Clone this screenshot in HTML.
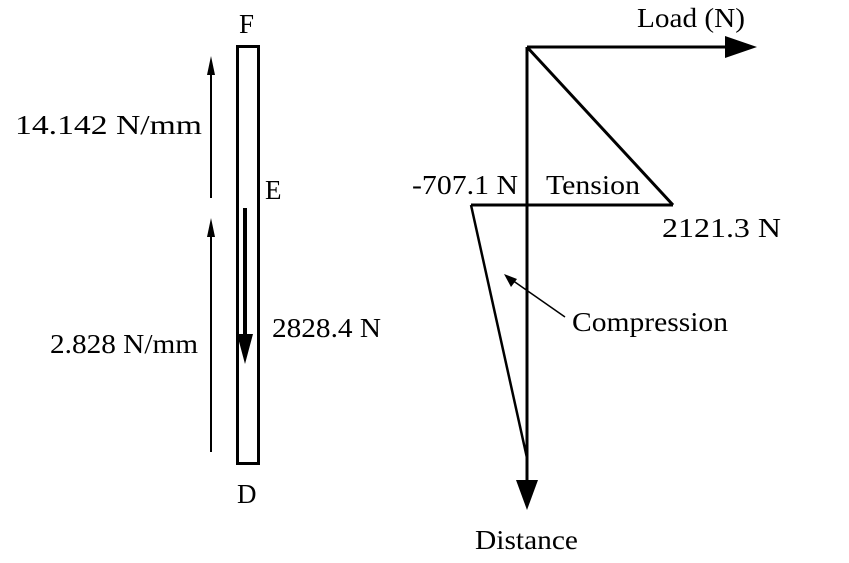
<!DOCTYPE html>
<html><head><style>body{margin:0;background:#fff}svg{display:block}</style></head><body>
<svg width="849" height="563" xmlns="http://www.w3.org/2000/svg" font-family="Liberation Serif, serif" font-size="27" fill="#000">
<rect x="237.5" y="46.5" width="21" height="417" fill="none" stroke="#000" stroke-width="3"/>
<line x1="245" y1="208" x2="245" y2="336" stroke="#000" stroke-width="4"/>
<polygon points="237,334 253,334 245,364"/>
<line x1="211" y1="198" x2="211" y2="70" stroke="#000" stroke-width="2"/>
<polygon points="207,75 215,75 211,56"/>
<line x1="211" y1="452" x2="211" y2="232" stroke="#000" stroke-width="2"/>
<polygon points="207,237 215,237 211,218"/>
<text x="239" y="33">F</text>
<text x="265" y="199">E</text>
<text x="237" y="503">D</text>
<text x="15" y="134" textLength="187" lengthAdjust="spacingAndGlyphs">14.142 N/mm</text>
<text x="50" y="353" textLength="148" lengthAdjust="spacingAndGlyphs">2.828 N/mm</text>
<text x="272" y="337" textLength="109" lengthAdjust="spacingAndGlyphs">2828.4 N</text>
<line x1="527" y1="47" x2="730" y2="47" stroke="#000" stroke-width="3"/>
<polygon points="725,36 725,58 757,47"/>
<line x1="527" y1="47" x2="527" y2="485" stroke="#000" stroke-width="3"/>
<polygon points="516,480 538,480 527,510"/>
<line x1="527" y1="47" x2="673" y2="205" stroke="#000" stroke-width="3"/>
<line x1="471" y1="205" x2="673" y2="205" stroke="#000" stroke-width="3"/>
<line x1="471" y1="205" x2="527" y2="458" stroke="#000" stroke-width="2.5"/>
<line x1="565" y1="317" x2="512" y2="280" stroke="#000" stroke-width="1.5"/>
<polygon points="504,274 517,279 511,287"/>
<text x="637" y="27" textLength="108" lengthAdjust="spacingAndGlyphs">Load (N)</text>
<text x="412" y="194" textLength="106" lengthAdjust="spacingAndGlyphs">-707.1 N</text>
<text x="546" y="194" textLength="94" lengthAdjust="spacingAndGlyphs">Tension</text>
<text x="662" y="237" textLength="119" lengthAdjust="spacingAndGlyphs">2121.3 N</text>
<text x="572" y="331" textLength="156" lengthAdjust="spacingAndGlyphs">Compression</text>
<text x="475" y="549" textLength="103" lengthAdjust="spacingAndGlyphs">Distance</text>
</svg>
</body></html>
